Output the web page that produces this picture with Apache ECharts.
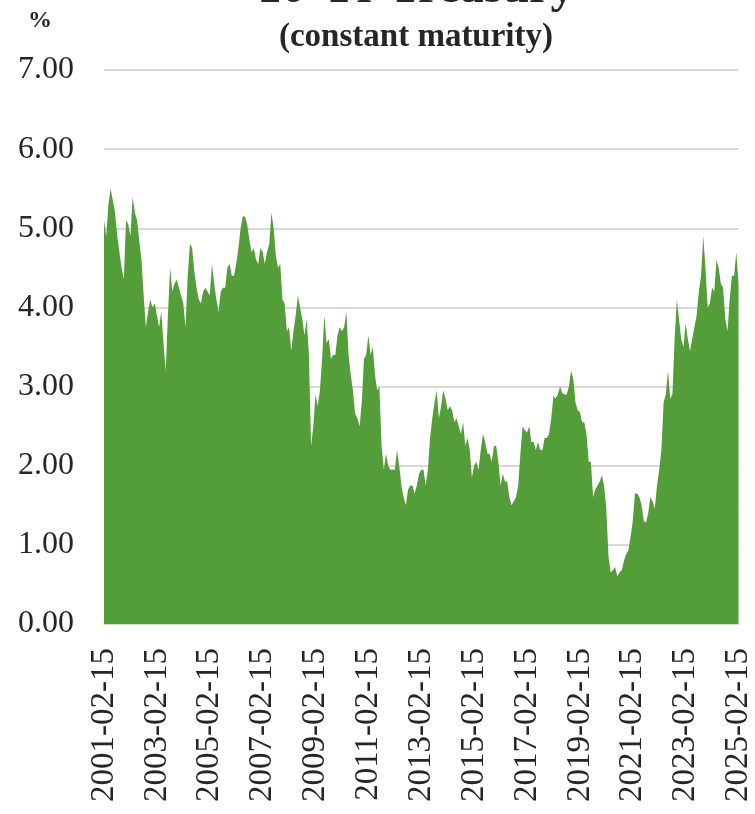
<!DOCTYPE html>
<html>
<head>
<meta charset="utf-8">
<title>10-Yr Treasury</title>
<script src="https://cdn.jsdelivr.net/npm/echarts@6/dist/echarts.min.js"></script>
<style>
  html, body { margin: 0; padding: 0; background: #fff; }
  #chart { width: 755px; height: 814px; }
</style>
</head>
<body>
<div id="chart"></div>
<script>
(function () {
  const firstYear = 2001;
  const firstMonth = 2;

  // monthly readings of the 10-year yield (%), Feb 2001 .. Feb 2025
  const yields = [
    5.10, 4.90, 5.30, 5.50, 5.35, 5.20, 4.90, 4.70, 4.50, 4.35, 5.10,
    5.05, 4.90, 5.40, 5.20, 5.10, 4.85, 4.60, 4.15, 3.75, 3.95, 4.10, 4.00,
    4.05, 3.90, 3.75, 3.95, 3.55, 3.20, 3.90, 4.50, 4.20, 4.30, 4.35, 4.25,
    4.15, 4.05, 3.75, 4.40, 4.80, 4.75, 4.45, 4.25, 4.10, 4.05, 4.20, 4.25,
    4.20, 4.15, 4.55, 4.30, 4.10, 3.95, 4.20, 4.25, 4.25, 4.50, 4.55, 4.40,
    4.40, 4.55, 4.75, 5.00, 5.15, 5.15, 5.05, 4.85, 4.70, 4.75, 4.60, 4.55,
    4.75, 4.70, 4.55, 4.70, 4.80, 5.20, 5.00, 4.65, 4.50, 4.55, 4.10, 4.05,
    3.70, 3.75, 3.45, 3.70, 3.90, 4.15, 4.00, 3.85, 3.65, 3.85, 3.40, 2.25,
    2.50, 2.90, 2.75, 2.95, 3.35, 3.90, 3.55, 3.60, 3.35, 3.40, 3.40, 3.65,
    3.75, 3.70, 3.75, 3.95, 3.40, 3.15, 2.95, 2.65, 2.60, 2.50, 2.80, 3.35,
    3.40, 3.65, 3.40, 3.50, 3.15, 2.95, 3.00, 2.25, 1.95, 2.15, 2.00, 1.95,
    1.95, 1.95, 2.20, 2.00, 1.75, 1.60, 1.50, 1.70, 1.75, 1.75, 1.65, 1.75,
    1.90, 1.95, 1.95, 1.75, 1.95, 2.35, 2.60, 2.80, 2.95, 2.60, 2.75, 2.95,
    2.85, 2.70, 2.75, 2.70, 2.55, 2.60, 2.50, 2.40, 2.55, 2.25, 2.35, 2.20,
    1.85, 2.00, 2.05, 1.95, 2.20, 2.40, 2.30, 2.15, 2.15, 2.05, 2.25, 2.25,
    2.05, 1.75, 1.90, 1.80, 1.80, 1.60, 1.50, 1.55, 1.60, 1.75, 2.15, 2.50,
    2.45, 2.42, 2.50, 2.30, 2.30, 2.20, 2.30, 2.20, 2.20, 2.35, 2.35, 2.40,
    2.60, 2.88, 2.85, 2.90, 3.00, 2.92, 2.90, 2.90, 3.00, 3.20, 3.10, 2.80,
    2.70, 2.68, 2.55, 2.55, 2.40, 2.05, 2.05, 1.60, 1.70, 1.75, 1.80, 1.88,
    1.75, 1.45, 0.85, 0.65, 0.68, 0.72, 0.60, 0.65, 0.68, 0.80, 0.88, 0.93,
    1.10, 1.30, 1.65, 1.65, 1.60, 1.50, 1.30, 1.28, 1.40, 1.60, 1.55, 1.45,
    1.75, 1.95, 2.20, 2.80, 2.90, 3.20, 2.85, 2.90, 3.60, 4.10, 3.85, 3.60,
    3.50, 3.80, 3.60, 3.45, 3.60, 3.75, 3.90, 4.20, 4.40, 4.90, 4.50, 4.00,
    4.05, 4.25, 4.20, 4.60, 4.50, 4.30, 4.25, 3.85, 3.70, 4.10, 4.40, 4.40,
    4.70, 4.30
  ];

  const yTicks = [0, 1, 2, 3, 4, 5, 6, 7];

  const dates = yields.map((_, i) => {
    const m = firstMonth - 1 + i;
    const y = firstYear + Math.floor(m / 12);
    const mm = String((m % 12) + 1).padStart(2, "0");
    return `${y}-${mm}-15`;
  });

  const serif = "'Liberation Serif', 'DejaVu Serif', serif";
  const chart = echarts.init(document.getElementById("chart"), null, { renderer: "canvas" });

  chart.setOption({
    animation: false,
    grid: { left: 104, right: 10, top: 70, bottom: 190 },
    graphic: [
      {
        type: "text",
        style: {
          text: "10-Yr Treasury",
          x: 416,
          y: 14,
          textAlign: "center",
          textVerticalAlign: "bottom",
          font: "bold 48px " + serif,
          fill: "#262626"
        }
      },
      {
        type: "text",
        style: {
          text: "(constant maturity)",
          x: 416,
          y: 37,
          textAlign: "center",
          textVerticalAlign: "middle",
          font: "bold 33px " + serif,
          fill: "#262626"
        }
      },
      {
        type: "text",
        style: {
          text: "%",
          x: 40,
          y: 21,
          textAlign: "center",
          textVerticalAlign: "middle",
          font: "bold 24px " + serif,
          fill: "#262626"
        }
      }
    ],
    xAxis: {
      type: "category",
      data: dates,
      boundaryGap: false,
      axisLine: { lineStyle: { color: "#d9d9d9", width: 2 } },
      axisTick: { show: false },
      axisLabel: {
        interval: 23,
        rotate: 90,
        margin: 24,
        color: "#262626",
        fontFamily: serif,
        fontSize: 33
      },
      splitLine: { show: false }
    },
    yAxis: {
      type: "value",
      min: yTicks[0],
      max: yTicks[yTicks.length - 1],
      interval: 1,
      axisLine: { show: false },
      axisTick: { show: false },
      axisLabel: {
        margin: 30,
        color: "#262626",
        fontFamily: serif,
        fontSize: 32,
        formatter: (v) => v.toFixed(2)
      },
      splitLine: { lineStyle: { color: "#d9d9d9", width: 2 } }
    },
    series: [
      {
        type: "line",
        data: yields,
        symbol: "none",
        lineStyle: { width: 0 },
        areaStyle: { color: "#549e3a", opacity: 1 }
      }
    ]
  });
})();
</script>
</body>
</html>
